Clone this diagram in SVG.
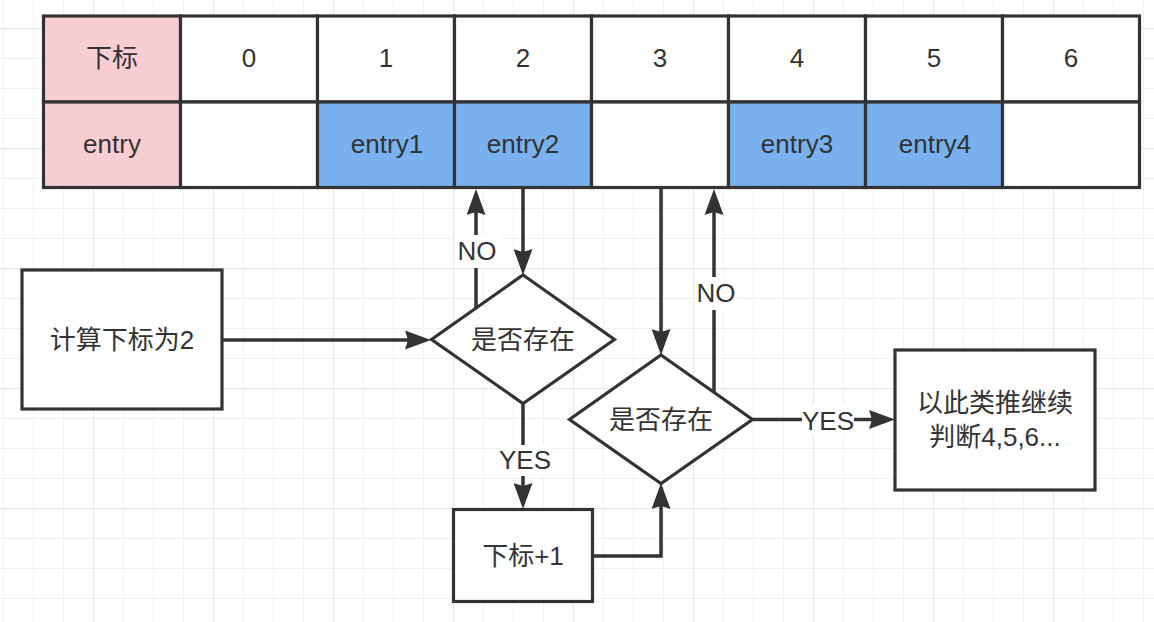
<svg xmlns="http://www.w3.org/2000/svg" width="1154" height="622" viewBox="0 0 1154 622">
<defs>
<pattern id="minor" x="3" y="28" width="30" height="30" patternUnits="userSpaceOnUse">
<path d="M0,0 H30 M0,0 V30" fill="none" stroke="#f0f0f0" stroke-width="2"/>
</pattern>
<pattern id="major" x="93" y="28" width="120" height="120" patternUnits="userSpaceOnUse">
<path d="M0,0 H120 M0,0 V120" fill="none" stroke="#e6e6e6" stroke-width="2"/>
</pattern>
<marker id="arr" markerUnits="userSpaceOnUse" markerWidth="26" markerHeight="19" refX="3" refY="9.5" orient="auto" viewBox="0 0 26 19">
<path d="M0,0 L26,9.5 L0,19 L3,9.5 Z" fill="#333"/>
</marker>
<style>
.t{font-family:"Liberation Sans","Noto Sans CJK SC",sans-serif;font-size:26px;fill:#333;text-anchor:middle;dominant-baseline:central}
.cell{stroke:#333;stroke-width:3.2}
.shape{fill:#fff;stroke:#333;stroke-width:3.2}
.con{fill:none;stroke:#333;stroke-width:3.5;marker-end:url(#arr)}
.lbl{fill:#fff}
</style>
</defs>
<rect width="1154" height="622" fill="#fff"/>
<rect width="1154" height="622" fill="url(#minor)"/>
<rect width="1154" height="622" fill="url(#major)"/>

<g id="table">
<rect class="cell" x="43.5" y="16" width="137" height="86" fill="#f8ced3"/>
<rect class="cell" x="180.5" y="16" width="137" height="86" fill="#fff"/>
<rect class="cell" x="317.5" y="16" width="137" height="86" fill="#fff"/>
<rect class="cell" x="454.5" y="16" width="137" height="86" fill="#fff"/>
<rect class="cell" x="591.5" y="16" width="137" height="86" fill="#fff"/>
<rect class="cell" x="728.5" y="16" width="137" height="86" fill="#fff"/>
<rect class="cell" x="865.5" y="16" width="137" height="86" fill="#fff"/>
<rect class="cell" x="1002.5" y="16" width="137" height="86" fill="#fff"/>
<rect class="cell" x="43.5" y="102" width="137" height="85.5" fill="#f8ced3"/>
<rect class="cell" x="180.5" y="102" width="137" height="85.5" fill="#fff"/>
<rect class="cell" x="317.5" y="102" width="137" height="85.5" fill="#78b1ee"/>
<rect class="cell" x="454.5" y="102" width="137" height="85.5" fill="#78b1ee"/>
<rect class="cell" x="591.5" y="102" width="137" height="85.5" fill="#fff"/>
<rect class="cell" x="728.5" y="102" width="137" height="85.5" fill="#78b1ee"/>
<rect class="cell" x="865.5" y="102" width="137" height="85.5" fill="#78b1ee"/>
<rect class="cell" x="1002.5" y="102" width="137" height="85.5" fill="#fff"/>
<text class="t" x="112" y="58">下标</text>
<text class="t" x="249" y="58">0</text>
<text class="t" x="386" y="58">1</text>
<text class="t" x="523" y="58">2</text>
<text class="t" x="660" y="58">3</text>
<text class="t" x="797" y="58">4</text>
<text class="t" x="934" y="58">5</text>
<text class="t" x="1071" y="58">6</text>
<text class="t" x="112" y="144">entry</text>
<text class="t" x="387" y="144">entry1</text>
<text class="t" x="523" y="144">entry2</text>
<text class="t" x="797" y="144">entry3</text>
<text class="t" x="935" y="144">entry4</text>
</g>

<g id="calc">
<rect class="shape" x="22" y="270" width="200" height="139"/>
<text class="t" x="122" y="340">计算下标为2</text>
</g>

<g id="check1">
<polygon class="shape" points="523,275 614.5,339.5 523,403.5 431.5,339.5"/>
<text class="t" x="523" y="340">是否存在</text>
</g>

<g id="check2">
<polygon class="shape" points="661,355 752.5,419.5 661,483.5 569.5,419.5"/>
<text class="t" x="661" y="420">是否存在</text>
</g>

<g id="inc">
<rect class="shape" x="453.5" y="509.5" width="139" height="92"/>
<text class="t" x="523" y="556">下标+1</text>
</g>

<g id="cont">
<rect class="shape" x="895" y="350" width="200" height="140"/>
<text class="t" x="995" y="403">以此类推继续</text>
<text class="t" x="995" y="437">判断4,5,6...</text>
</g>

<g id="connectors">
<path class="con" d="M222,340 L408,340"/>
<path class="con" d="M476,308 L476,212"/>
<path class="con" d="M523,189 L523,252"/>
<path class="con" d="M661,189 L661,332"/>
<path class="con" d="M714,392 L714,212"/>
<path class="con" d="M523,404 L523,486"/>
<path class="con" d="M593,556 L661,556 L661,506"/>
<path class="con" d="M753,419.5 L872,419.5"/>
<rect class="lbl" x="455" y="235" width="45" height="33"/>
<text class="t" x="477" y="251">NO</text>
<rect class="lbl" x="696" y="277" width="41" height="33"/>
<text class="t" x="716" y="293">NO</text>
<rect class="lbl" x="499" y="445" width="52" height="31"/>
<text class="t" x="525" y="460">YES</text>
<rect class="lbl" x="802" y="404" width="52" height="31"/>
<text class="t" x="828" y="421">YES</text>
</g>
</svg>
